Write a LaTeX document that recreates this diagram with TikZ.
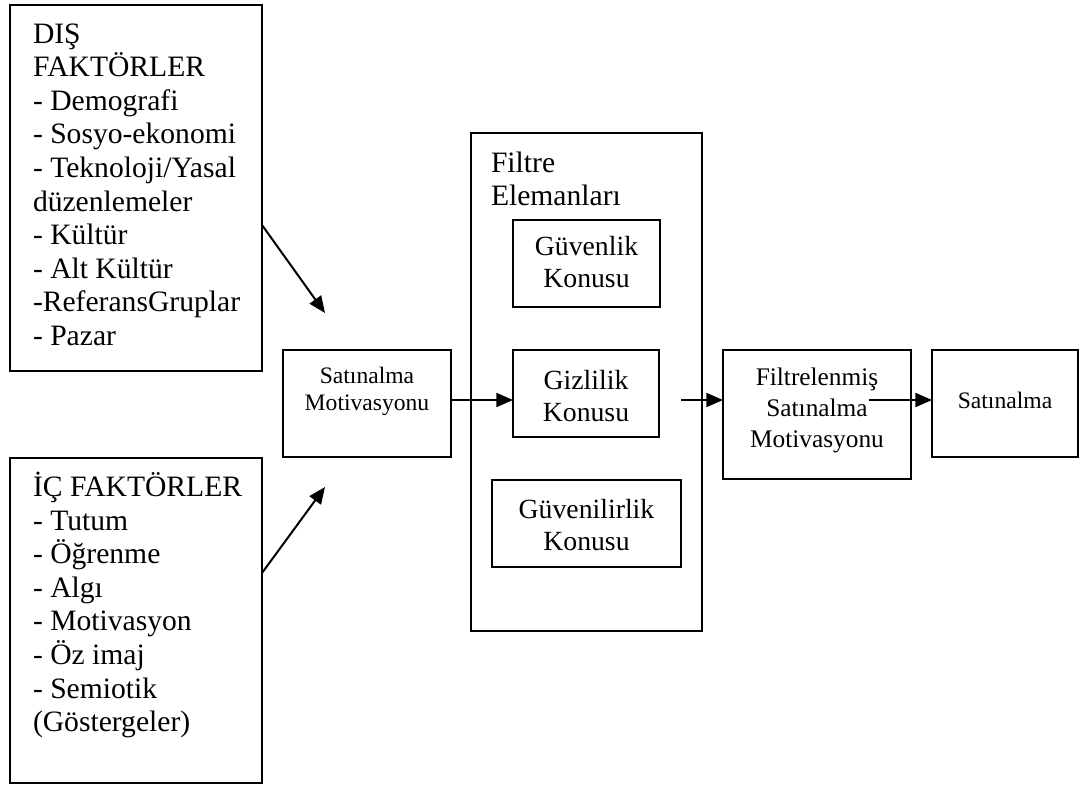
\documentclass[tikz,border=0pt]{standalone}
\usepackage{fontspec}
\setmainfont{Liberation Serif}
\usetikzlibrary{arrows.meta}

% stacked lines whose baseline is the first line
\newcommand\lefttop[1]{\vtop{\halign{##\hfil\cr#1\crcr}}}
\newcommand\centertop[1]{\vtop{\halign{\hfil##\hfil\cr#1\crcr}}}

% text sizes
\newcommand\fbig{\fontsize{22.2pt}{25.2pt}\selectfont}
\newcommand\finner{\fontsize{20.8pt}{24.6pt}\selectfont}
\newcommand\fmid{\fontsize{19pt}{23.6pt}\selectfont}
\newcommand\fsmall{\fontsize{17.7pt}{20.6pt}\selectfont}

\begin{document}
\begin{tikzpicture}[x=0.75pt,y=-0.75pt,
  box/.style={draw, line width=1.5pt, fill=white, inner sep=0pt, outer sep=0pt},
  lbl/.style={inner sep=0pt, outer sep=0pt},
  arr/.style={line width=1.5pt, -{Triangle[length=12.5pt,width=10.5pt]}}]
\useasboundingbox (0,0) rectangle (1080,785);

% boxes
\node[box, minimum width=189pt, minimum height=274.5pt] (dis) at (136,188) {};
\node[box, minimum width=189pt, minimum height=243.75pt] (ic) at (136,620.5) {};
\node[box, minimum width=126pt, minimum height=80.25pt] (satm) at (367,403.5) {};
\node[box, minimum width=173.25pt, minimum height=373.5pt] (filt) at (586.5,382) {};
\node[box, minimum width=110.25pt, minimum height=65.25pt] (guv) at (586.5,263.5) {};
\node[box, minimum width=109.5pt, minimum height=65.25pt] (giz) at (586,393.5) {};
\node[box, minimum width=141.75pt, minimum height=65.25pt] (gvl) at (586.5,523.5) {};
\node[box, minimum width=141pt, minimum height=96.75pt] (fsm) at (817,414.5) {};
\node[box, minimum width=109.5pt, minimum height=80.25pt] (sat) at (1005,403.5) {};

% texts
\node[lbl, anchor=base west, font=\fbig] (distext) at (33,43)
  {\lefttop{DIŞ\cr FAKTÖRLER\cr - Demografi\cr - Sosyo-ekonomi\cr - Teknoloji/Yasal\cr düzenlemeler\cr - Kültür\cr - Alt Kültür\cr -ReferansGruplar\cr - Pazar}};
\node[lbl, anchor=base west, font=\fbig] (ictext) at (33,496.5)
  {\lefttop{İÇ FAKTÖRLER\cr - Tutum\cr - Öğrenme\cr - Algı\cr - Motivasyon\cr - Öz imaj\cr - Semiotik\cr (Göstergeler)}};
\node[lbl, anchor=base, font=\fsmall] (satmtext) at (367,383)
  {\centertop{Satınalma\cr Motivasyonu}};
\node[lbl, anchor=base west, font=\fbig] (filttext) at (491,172)
  {\lefttop{Filtre\cr Elemanları}};
\node[lbl, anchor=base, font=\finner] (guvtext) at (586.5,255)
  {\centertop{Güvenlik\cr Konusu}};
\node[lbl, anchor=base, font=\finner] (giztext) at (586,389)
  {\centertop{Gizlilik\cr Konusu}};
\node[lbl, anchor=base, font=\finner] (gvltext) at (586.5,518)
  {\centertop{Güvenilirlik\cr Konusu}};
\node[lbl, anchor=base, font=\fmid] (fsmtext) at (817,385)
  {\centertop{Filtrelenmiş\cr Satınalma\cr Motivasyonu}};
\node[lbl, anchor=base, font=\fsmall] (sattext) at (1005,408) {Satınalma};

% connectors
\coordinate (tipA) at (325,313);
\coordinate (tipB) at (325,487);
\coordinate (row) at (0,400);
\draw[arr] (dis.east) ++(0,37) -- (tipA);
\draw[arr] (ic.east) ++(0,-47.5) -- (tipB);
\draw[arr] (satm.east |- row) -- (giz.west |- row);
\draw[arr] (giz.east |- row) ++(22,0) -- (fsm.west |- row);
\draw[arr] (fsm.east |- row) ++(-42,0) -- (sat.west |- row);
\end{tikzpicture}
\end{document}
